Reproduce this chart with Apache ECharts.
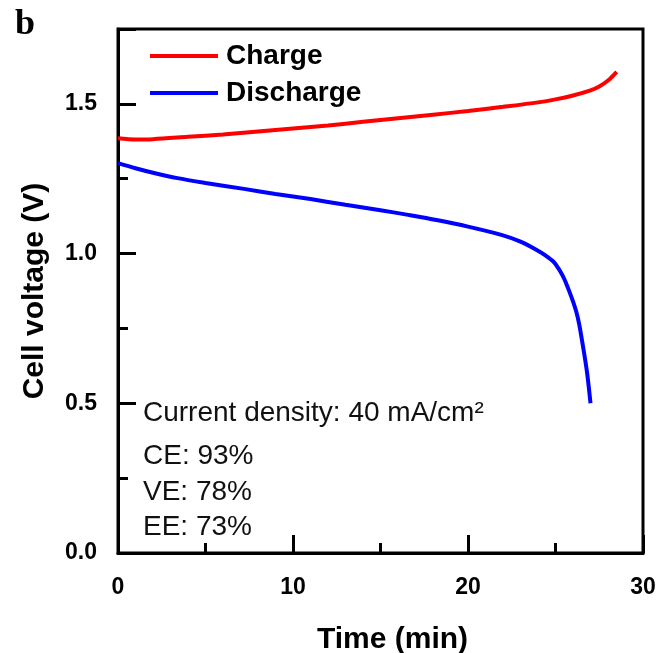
<!DOCTYPE html>
<html>
<head>
<meta charset="utf-8">
<script src="https://cdn.jsdelivr.net/npm/echarts@6/dist/echarts.min.js"></script>
<style>
  html, body { margin: 0; padding: 0; background: #fff; }
  #chart { width: 657px; height: 653px; }
</style>
</head>
<body>
<div id="chart"></div>
<script>
// charge curve: [time (min), voltage (V)]
var chargeData = [
  [0, 1.385], [1, 1.381], [2, 1.382], [4, 1.39], [6, 1.398], [8, 1.408],
  [10, 1.418], [12, 1.428], [14, 1.44], [16, 1.452], [18, 1.464], [20, 1.476],
  [22, 1.49], [24, 1.505], [25, 1.515], [26, 1.528], [27, 1.545], [27.5, 1.558],
  [28, 1.578], [28.5, 1.607]
];
// discharge curve
var dischargeData = [
  [0, 1.302], [1, 1.285], [2, 1.27], [3.4, 1.252], [5, 1.236], [7.2, 1.216],
  [9, 1.199], [11, 1.182], [13, 1.163], [15, 1.145], [16.5, 1.13], [18.2, 1.112],
  [20, 1.09], [22, 1.061], [23, 1.04], [23.9, 1.013], [24.4, 0.995], [24.9, 0.972],
  [25.15, 0.952], [25.4, 0.927], [25.6, 0.902], [25.8, 0.872], [26.0, 0.84],
  [26.2, 0.803], [26.35, 0.765], [26.5, 0.715], [26.65, 0.662], [26.8, 0.604],
  [26.9, 0.555], [27.0, 0.50]
];
var seriesNames = ["Charge", "Discharge"];
var notes = ["Current density: 40 mA/cm²", "CE: 93%", "VE: 78%", "EE: 73%"];

var font = "Liberation Sans, Arial, sans-serif";
var myChart = echarts.init(document.getElementById("chart"));

var option = {
  animation: false,
  title: {
    text: "b",
    left: 10,
    top: 2,
    textStyle: { fontFamily: "Liberation Serif, Times New Roman, serif", fontWeight: "bold", fontSize: 36, color: "#000" }
  },
  legend: {
    orient: "vertical",
    left: 150,
    top: 41,
    padding: 0,
    itemGap: 7,
    itemWidth: 68,
    itemHeight: 4,
    icon: "rect",
    data: seriesNames,
    textStyle: { fontFamily: font, fontWeight: "bold", fontSize: 28, color: "#000", lineHeight: 30, padding: [0, 0, 0, 3] }
  },
  grid: {
    left: 118, right: 14, top: 29, bottom: 100,
    outerBoundsMode: "none",
    show: true, borderColor: "#000", borderWidth: 3
  },
  xAxis: {
    type: "value",
    min: 0, max: 30, interval: 10,
    name: "Time (min)",
    nameLocation: "middle",
    nameGap: 72,
    nameTextStyle: { fontFamily: font, fontWeight: "bold", fontSize: 30, color: "#000", padding: [0, 0, 0, 24] },
    axisLine: { show: true, lineStyle: { color: "#000", width: 3 } },
    axisTick: { inside: true, length: 18, lineStyle: { color: "#000", width: 3 } },
    minorTick: { show: true, splitNumber: 2, length: 10, lineStyle: { color: "#000", width: 3 } },
    splitLine: { show: false },
    axisLabel: { margin: 23, fontFamily: font, fontWeight: "bold", fontSize: 23, color: "#000" }
  },
  yAxis: [
    {
      type: "value",
      min: 0, max: 1.75, interval: 0.5,
      name: "Cell voltage (V)",
      nameLocation: "middle",
      nameGap: 68,
      nameTextStyle: { fontFamily: font, fontWeight: "bold", fontSize: 30, color: "#000" },
      axisLine: { show: true, lineStyle: { color: "#000", width: 3 } },
      axisTick: { inside: true, length: 18, lineStyle: { color: "#000", width: 3 } },
      splitLine: { show: false },
      axisLabel: {
        margin: 21, fontFamily: font, fontWeight: "bold", fontSize: 23, color: "#000",
        formatter: function (v) {
          return Math.abs(v / 0.5 - Math.round(v / 0.5)) < 1e-6 && v < 1.7 ? v.toFixed(1) : "";
        }
      }
    },
    {
      // minor ticks only
      type: "value",
      position: "left",
      min: 0, max: 1.75, interval: 0.25,
      axisLine: { show: false },
      axisTick: { inside: true, length: 10, lineStyle: { color: "#000", width: 3 } },
      axisLabel: { show: false },
      splitLine: { show: false }
    }
  ],
  series: [
    {
      name: seriesNames[0],
      type: "line",
      data: chargeData,
      showSymbol: false,
      smooth: 0.3,
      color: "#ff0000",
      lineStyle: { color: "#ff0000", width: 4 }
    },
    {
      name: seriesNames[1],
      type: "line",
      data: dischargeData,
      showSymbol: false,
      smooth: 0.3,
      color: "#0000ff",
      lineStyle: { color: "#0000ff", width: 4 }
    }
  ],
  graphic: notes.map(function (t, i) {
    var tops = [399, 442, 478, 513];
    return {
      type: "text",
      left: 143,
      top: tops[i],
      style: { text: t, font: "28px " + font, fill: "#111" }
    };
  })
};

myChart.setOption(option);
</script>
</body>
</html>
